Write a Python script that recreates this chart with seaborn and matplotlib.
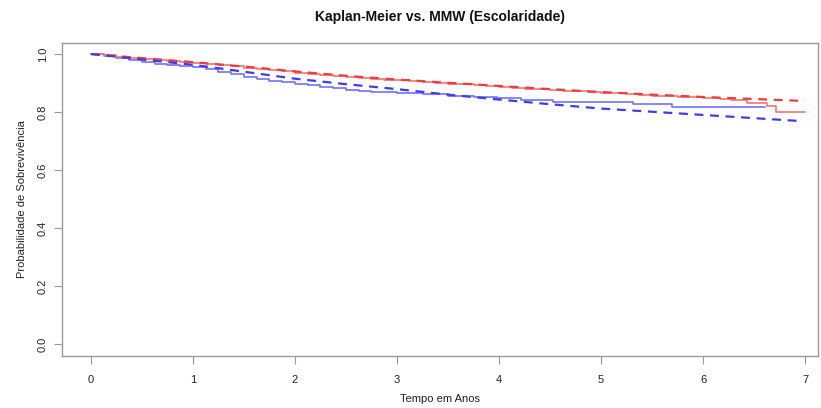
import matplotlib
matplotlib.use("Agg")
import matplotlib.pyplot as plt
import seaborn as sns

# Kaplan-Meier (step) estimates
km_blue_t = [0.0, 0.125, 0.25, 0.375, 0.5, 0.625, 0.75, 0.875, 1.0, 1.125, 1.25, 1.375, 1.5, 1.625, 1.75, 1.875,
             2.0, 2.125, 2.25, 2.375, 2.5, 2.625, 2.75, 2.875, 3.0, 3.125, 3.25, 3.375, 3.5, 3.625, 3.75, 3.875,
             3.98, 4.22, 4.53, 5.31, 5.70, 6.61]
km_blue_s = [1.0, 0.993, 0.987, 0.980, 0.973, 0.967, 0.962, 0.959, 0.954, 0.947, 0.939, 0.931, 0.921, 0.913, 0.907, 0.903,
             0.897, 0.892, 0.888, 0.883, 0.876, 0.872, 0.869, 0.868, 0.867, 0.865, 0.863, 0.861, 0.857, 0.854, 0.852, 0.851,
             0.849, 0.840, 0.836, 0.828, 0.817, 0.817]

km_red_t = [0.0, 0.125, 0.25, 0.375, 0.5, 0.625, 0.75, 0.875, 1.0, 1.125, 1.25, 1.375, 1.5, 1.625, 1.75, 1.875,
            2.0, 2.125, 2.25, 2.375, 2.5, 2.625, 2.75, 2.875, 3.0, 3.125, 3.25, 3.375, 3.5, 3.625, 3.75, 3.875,
            4.0, 4.125, 4.25, 4.375, 4.5, 4.625, 4.75, 4.875, 5.0, 5.125, 5.25, 5.375, 5.5, 5.625, 5.75, 5.875,
            6.0, 6.17, 6.27, 6.43, 6.63, 6.72, 7.0]
km_red_s = [1.0, 0.995, 0.991, 0.987, 0.983, 0.979, 0.976, 0.972, 0.968, 0.965, 0.961, 0.957, 0.953, 0.949, 0.945, 0.940,
            0.936, 0.932, 0.928, 0.925, 0.921, 0.918, 0.915, 0.912, 0.909, 0.906, 0.903, 0.901, 0.898, 0.895, 0.893, 0.890,
            0.887, 0.884, 0.881, 0.879, 0.876, 0.874, 0.871, 0.869, 0.866, 0.864, 0.862, 0.859, 0.857, 0.855, 0.853, 0.851,
            0.849, 0.844, 0.840, 0.832, 0.822, 0.801, 0.801]

# MMW (smooth) estimates
mmw_red_t = [0.0, 0.25, 0.5, 0.75, 1.0, 1.5, 2.0, 2.5, 3.0, 3.5, 4.0, 4.5, 5.0, 5.5, 6.0, 6.5, 7.0]
mmw_red_s = [1.0, 0.993, 0.986, 0.979, 0.972, 0.957, 0.940, 0.925, 0.912, 0.901, 0.890, 0.879, 0.869, 0.860, 0.852, 0.845, 0.838]
mmw_blue_t = [0.0, 0.25, 0.5, 0.75, 1.0, 1.5, 2.0, 2.5, 3.0, 3.5, 4.0, 4.5, 5.0, 5.5, 6.0, 6.5, 6.95]
mmw_blue_s = [1.0, 0.991, 0.981, 0.972, 0.963, 0.939, 0.915, 0.896, 0.879, 0.860, 0.843, 0.827, 0.812, 0.801, 0.790, 0.779, 0.769]

x_ticks = [0, 1, 2, 3, 4, 5, 6, 7]
y_ticks = [0.0, 0.2, 0.4, 0.6, 0.8, 1.0]

sns.set_style("white")
plt.rcParams['font.family'] = ['Liberation Sans', 'DejaVu Sans']

fig = plt.figure(figsize=(8.21, 4.08), dpi=100)
ax = fig.add_axes([62/821, 1 - 356/408, (818-62)/821, (356-43)/408])

sns.lineplot(x=km_blue_t, y=km_blue_s, ax=ax, drawstyle='steps-post', color='#7272f6', lw=1.2, sort=False, estimator=None)
sns.lineplot(x=km_red_t, y=km_red_s, ax=ax, drawstyle='steps-post', color='#ef7676', lw=1.2, sort=False, estimator=None)
sns.lineplot(x=mmw_red_t, y=mmw_red_s, ax=ax, color='#f03c3c', lw=1.6, linestyle=(0, (4, 3)), sort=False, estimator=None)
sns.lineplot(x=mmw_blue_t, y=mmw_blue_s, ax=ax, color='#3c3cf5', lw=1.6, linestyle=(0, (4, 3)), sort=False, estimator=None)

ax.set_xlim(-0.284, 7.127)
ax.set_ylim(-0.041, 1.038)
ax.set_xticks(x_ticks)
ax.set_xticklabels([str(v) for v in x_ticks])
ax.set_yticks(y_ticks)
ax.set_yticklabels([f"{v:.1f}" for v in y_ticks], rotation=90, va='center')
for s in ax.spines.values():
    s.set_color('#999999')
    s.set_linewidth(1.0)
ax.tick_params(axis='both', which='major', bottom=True, left=True, direction='out', length=6, width=0.8,
               color='#999999', labelcolor='#222222', labelsize=8)
ax.tick_params(axis='x', pad=8)
ax.tick_params(axis='y', pad=4)

ax.set_xlabel("Tempo em Anos", fontsize=8, color='#222222', labelpad=6)
ax.set_ylabel("Probabilidade de Sobrevivência", fontsize=8, color='#222222', labelpad=8)
fig.text(440/821, 1 - 17/408, "Kaplan-Meier vs. MMW (Escolaridade)", ha='center', va='center', fontsize=10, fontweight='bold', color='#111111')

fig.savefig("out.png", dpi=100)
